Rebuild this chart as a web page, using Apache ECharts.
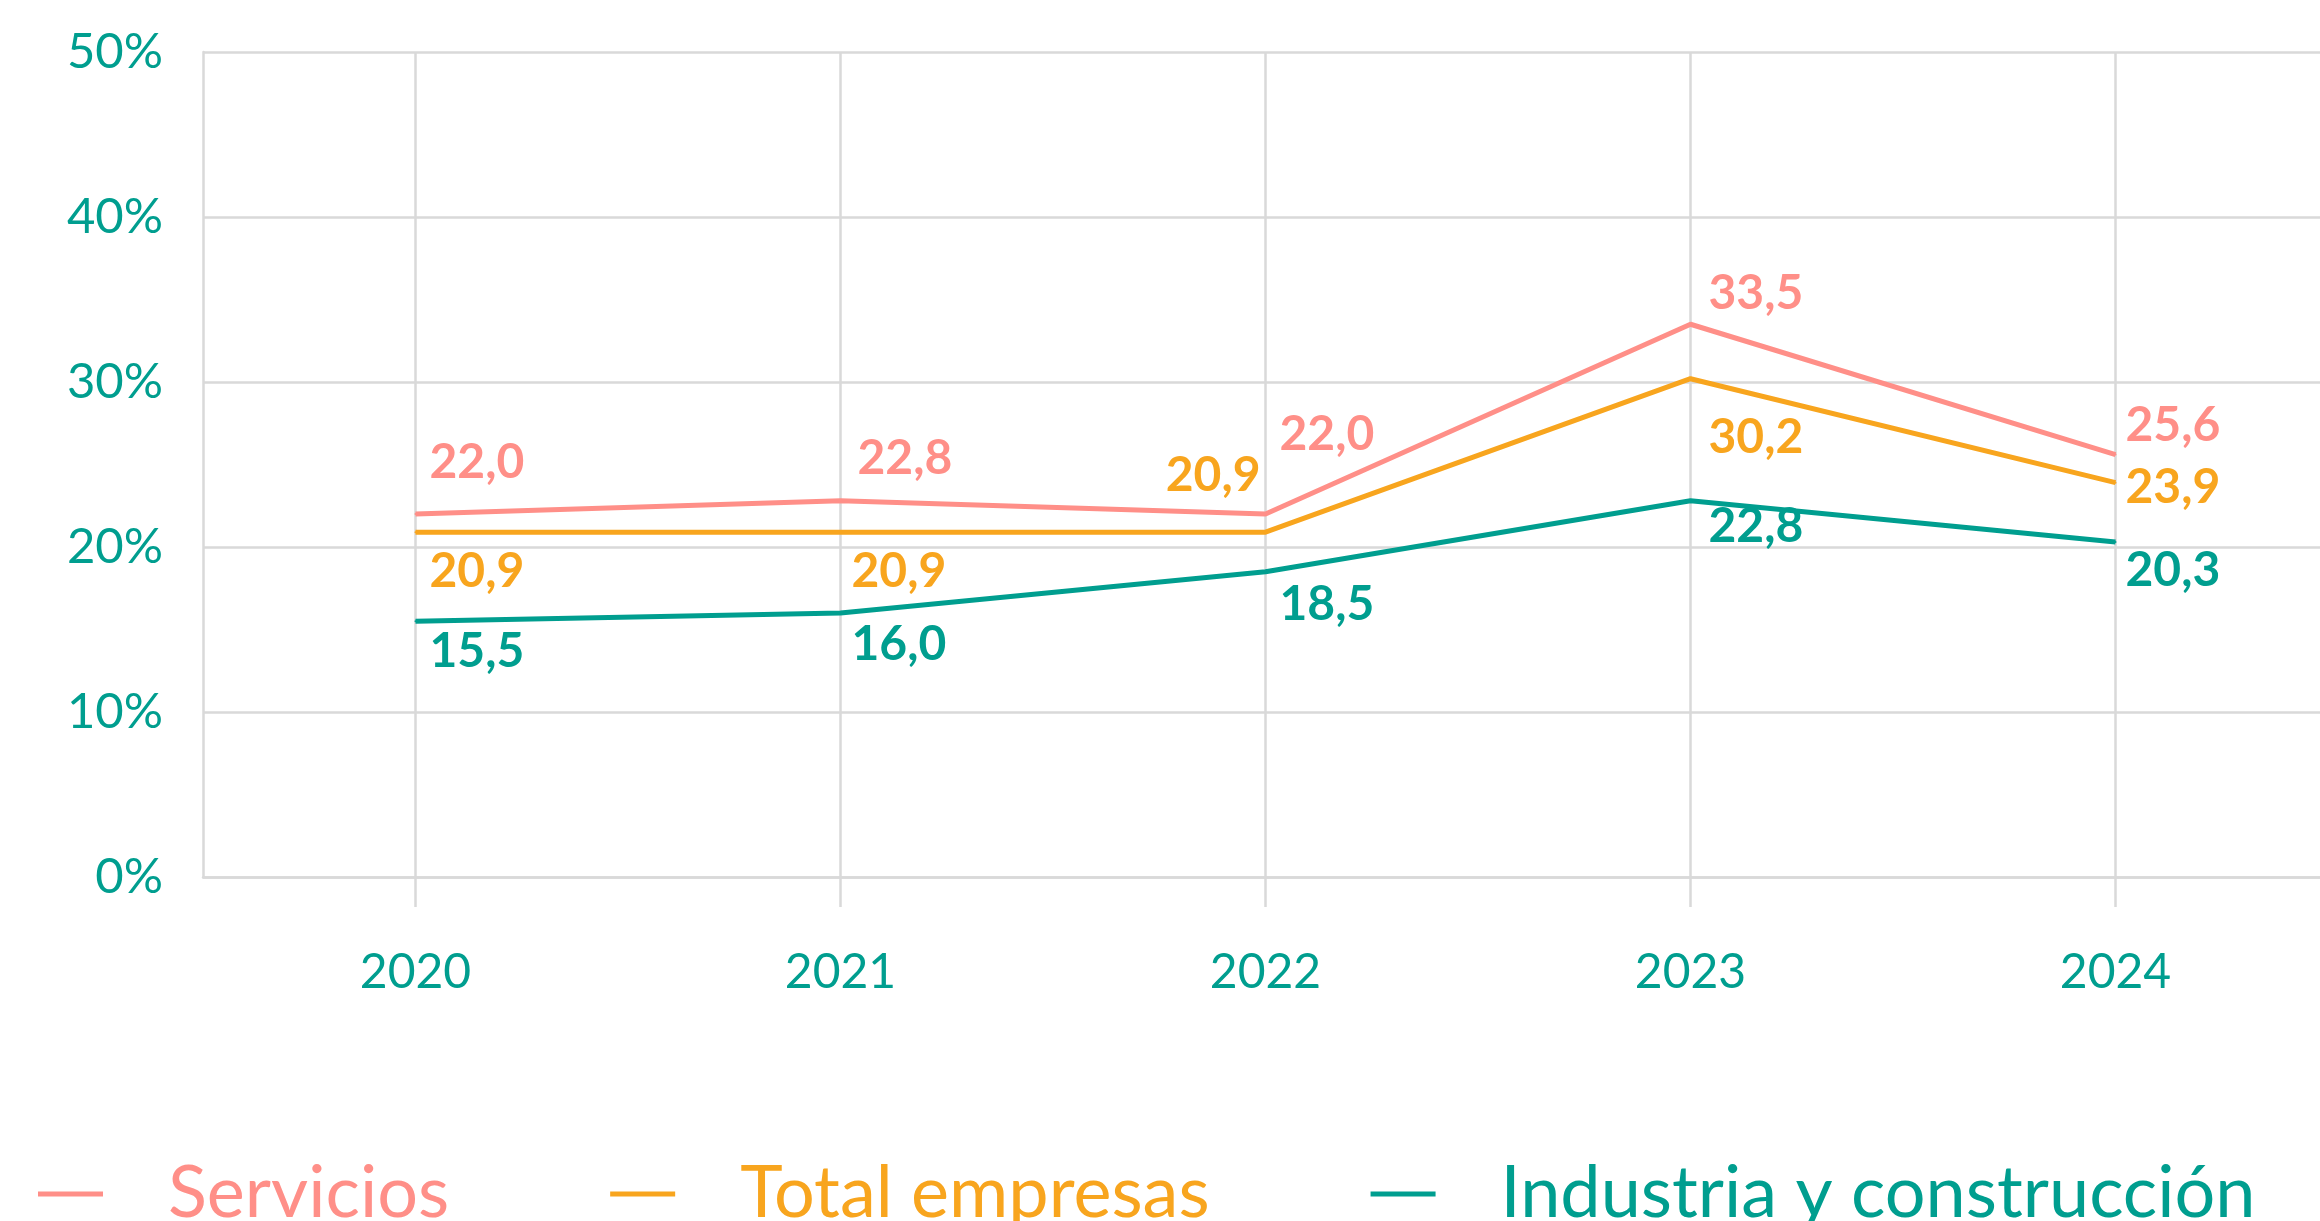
<!DOCTYPE html>
<html>
<head>
<meta charset="utf-8">
<style>
  html, body { margin: 0; padding: 0; background: #fff; }
  #chart { width: 2320px; height: 1221px; }
</style>
<script src="https://cdn.jsdelivr.net/npm/echarts@6/dist/echarts.min.js"></script>
</head>
<body>
<div id="chart"></div>
<script>
// data (%)
const years = ['2020', '2021', '2022', '2023', '2024'];
const servicios = [22.0, 22.8, 22.0, 33.5, 25.6];
const totalEmpresas = [20.9, 20.9, 20.9, 30.2, 23.9];
const industria = [15.5, 16.0, 18.5, 22.8, 20.3];
const seriesNames = ['Servicios', 'Total empresas', 'Industria y construcción'];

const colors = ['#ff8f88', '#f8a51e', '#009e8f'];
const teal = '#009e8f';
const gridGray = '#d9d9d9';
const font = 'Lato, "Noto Sans", sans-serif';

// where each value label sits next to its point: [dx, dy, align]
const labelPlace = [
  [[14, -51], [17, -42], [14, -79], [18, -31], [10, -29]],
  [[14, 39], [11, 39], [-5, -57, 'right'], [18, 59], [10, 5]],
  [[14, 30], [11, 32], [14, 33], [18, 26], [10, 28]]
];

const fmt = v => v.toFixed(1).replace('.', ',');

function buildSeries(idx, values) {
  return {
    name: seriesNames[idx],
    type: 'line',
    symbol: 'circle',
    symbolSize: 2,
    showSymbol: true,
    silent: true,
    z: 10 - idx,
    itemStyle: { color: colors[idx] },
    lineStyle: { color: colors[idx], width: 5 },
    emphasis: { disabled: true },
    data: values.map((v, i) => {
      const p = labelPlace[idx][i];
      return {
        value: v,
        label: {
          position: [p[0] + 1, p[1] + 1],
          align: p[2] || 'left',
          verticalAlign: 'middle'
        }
      };
    }),
    label: {
      show: true,
      formatter: d => fmt(d.value),
      color: colors[idx],
      fontFamily: font,
      fontWeight: 'bold',
      fontSize: 48
    }
  };
}

const chart = echarts.init(document.getElementById('chart'));
chart.setOption({
  animation: false,
  backgroundColor: '#fff',
  grid: { left: 203, top: 52, bottom: 344, width: 2125, containLabel: false, outerBoundsMode: 'none' },
  legend: {
    left: 33,
    top: 1153,
    icon: 'rect',
    itemWidth: 65,
    itemHeight: 5,
    itemGap: 161,
    selectedMode: false,
    data: seriesNames.map((n, i) => ({
      name: n,
      textStyle: { color: colors[i] }
    })),
    textStyle: { fontFamily: font, fontSize: 72, padding: [0, 0, 0, 60] }
  },
  xAxis: [
    {
      type: 'category',
      data: years,
      boundaryGap: true,
      axisLine: { show: true, lineStyle: { color: gridGray, width: 2.5 } },
      axisTick: { show: true, alignWithLabel: true, length: 30, lineStyle: { color: gridGray, width: 2.5 } },
      axisLabel: { color: teal, fontFamily: font, fontSize: 48, margin: 72 },
      splitLine: { show: false }
    },
    {
      type: 'category',
      data: years,
      position: 'top',
      boundaryGap: true,
      axisLine: { show: false },
      axisTick: { show: true, inside: true, alignWithLabel: true, length: 825, lineStyle: { color: gridGray, width: 2.5 } },
      axisLabel: { show: false },
      splitLine: { show: false }
    }
  ],
  yAxis: {
    type: 'value',
    min: 0,
    max: 50,
    interval: 10,
    axisLine: { show: true, lineStyle: { color: gridGray, width: 2.5 } },
    axisTick: { show: false },
    axisLabel: { color: teal, fontFamily: font, fontSize: 49, margin: 40, formatter: '{value}%' },
    splitLine: { lineStyle: { color: gridGray, width: 2.5 } }
  },
  series: [
    buildSeries(0, servicios),
    buildSeries(1, totalEmpresas),
    buildSeries(2, industria)
  ]
});
</script>
</body>
</html>
